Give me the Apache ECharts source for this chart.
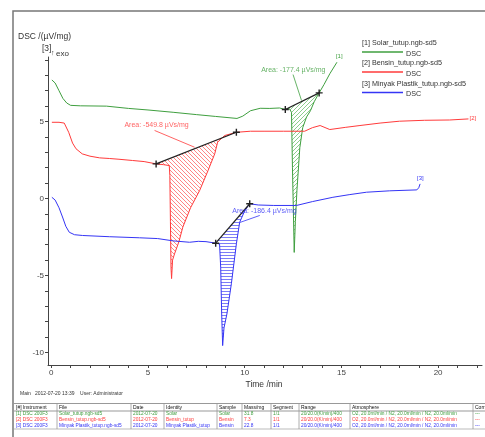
<!DOCTYPE html>
<html>
<head>
<meta charset="utf-8">
<script src="https://cdn.jsdelivr.net/npm/echarts@6/dist/echarts.min.js"></script>
<style>
  html, body { margin: 0; padding: 0; background: #fff; }
  #main { width: 485px; height: 437px; }
</style>
</head>
<body>
<div id="main"></div>
<script>
// time /min , DSC /(uV/mg)
const solarCurve = [
  [0.03, 7.7], [0.2, 7.5], [0.4, 7.0], [0.6, 6.5], [0.8, 6.2], [1.0, 6.05], [1.5, 6.02],
  [2.85, 6.0], [4.0, 5.85], [5.0, 5.75], [6.3, 5.6], [7.5, 5.45], [8.5, 5.33], [9.6, 5.2],
  [9.9, 5.35], [10.3, 5.7], [10.8, 5.86], [11.3, 5.85], [11.8, 5.88], [12.1, 5.78],
  [12.3, 5.85], [12.42, 5.6], [12.47, 2.0], [12.52, -1.0], [12.56, -3.5], [12.62, -1.5],
  [12.7, 0.5], [12.85, 3.3], [13.0, 4.6], [13.2, 5.3], [13.4, 5.7], [13.6, 6.3],
  [13.85, 6.86], [14.1, 7.4], [14.4, 8.1], [14.77, 8.85]
];
const bensinCurve = [
  [0.03, 4.95], [0.4, 4.95], [0.67, 4.9], [0.9, 4.3], [1.1, 3.6], [1.28, 3.23], [1.6, 2.9],
  [2.0, 2.75], [2.5, 2.64], [3.0, 2.6], [3.5, 2.55], [4.2, 2.47], [4.8, 2.4], [5.42, 2.25],
  [5.8, 2.2], [6.1, 2.14], [6.13, 1.5], [6.16, -1.5], [6.19, -4.5], [6.22, -5.2],
  [6.27, -4.0], [6.37, -3.6], [6.6, -2.8], [6.8, -1.86], [7.2, -0.6], [7.67, 0.52],
  [8.1, 1.8], [8.45, 2.9], [8.6, 3.66], [8.96, 4.09], [9.57, 4.3], [10.3, 4.37],
  [11.0, 4.37], [12.0, 4.37], [13.1, 4.37], [13.5, 4.6], [13.9, 4.74], [14.4, 4.48],
  [15.2, 4.62], [15.96, 4.74], [17.0, 4.9], [18.0, 5.02], [19.3, 5.08], [20.6, 5.1], [21.57, 5.17]
];
const plastikCurve = [
  [0.03, 0.08], [0.2, -0.1], [0.4, -0.6], [0.58, -1.2], [0.75, -1.8], [0.93, -2.19],
  [1.2, -2.35], [1.62, -2.4], [3.0, -2.48], [4.56, -2.55], [5.5, -2.6], [6.3, -2.75],
  [7.15, -2.84], [7.6, -2.78], [8.0, -2.8], [8.5, -2.9], [8.7, -2.95], [8.76, -4.5],
  [8.81, -7.5], [8.86, -9.55], [8.93, -8.4], [9.08, -7.5], [9.31, -5.54], [9.57, -2.94],
  [9.74, -1.54], [10.0, -0.8], [10.26, -0.34], [10.7, -0.42], [11.5, -0.45], [12.68, -0.45],
  [13.5, -0.2], [14.56, 0.08], [15.4, 0.25], [16.3, 0.41], [17.5, 0.5], [18.9, 0.56],
  [19.0, 0.7], [19.07, 0.95]
];

// peak baselines (onset, end)
const solarBase = [[12.1, 5.78], [13.85, 6.86]];
const bensinBase = [[5.42, 2.25], [9.57, 4.3]];
const plastikBase = [[8.5, -2.9], [10.26, -0.34]];

// area labels: text anchor, leader line
const areaTexts = ['Area: -177.4 \u00b5Vs/mg', 'Area: -549.8 \u00b5Vs/mg', 'Area: -186.4 \u00b5Vs/mg'];
const areaAnchors = [[10.85, 8.36], [3.78, 4.74], [9.36, -0.82]];
const areaLeaders = [
  [[12.5, 8.05], [12.94, 6.36]],
  [[5.34, 4.42], [7.41, 3.33]],
  [[9.74, -1.56], [10.78, -1.1]]
];

const seriesNames = ['[1] Solar_tutup.ngb-sd5', '[2] Bensin_tutup.ngb-sd5', '[3] Minyak Plastik_tutup.ngb-sd5'];
const seriesColors = ['#3f9f3f', '#ff3b3b', '#3535f5'];
const hatchColors = ['#5cb85c', '#ff5050', '#4545f5'];

const xTickLabels = [0, 5, 10, 15, 20];
const xTicks = [0, 1, 2, 3, 4, 5, 6, 7, 8, 9, 10, 11, 12, 13, 14, 15, 16, 17, 18, 19, 20, 21, 22];
const yTickLabels = [-10, -5, 0, 5];
const yTicks = [-10, -9, -8, -7, -6, -5, -4, -3, -2, -1, 0, 1, 2, 3, 4, 5, 6, 7, 8, 9];

const tableHead = ['[#] Instrument', 'File', 'Date', 'Identity', 'Sample', 'Mass/mg', 'Segment', 'Range', 'Atmosphere', 'Corr.'];
const tableRows = [
  ['[1] DSC 200F3', 'Solar_tutup.ngb-sd5', '2012-07-20', 'Solar', 'Solar', '31.8', '1/1', '20/20.0(K/min)/400', 'O2, 20.0ml/min / N2, 20.0ml/min / N2, 20.0ml/min', '---'],
  ['[2] DSC 200F3', 'Bensin_tutup.ngb-sd5', '2012-07-20', 'Bensin_tutup', 'Bensin', '7.3', '1/1', '20/20.0(K/min)/400', 'O2, 20.0ml/min / N2, 20.0ml/min / N2, 20.0ml/min', '---'],
  ['[3] DSC 200F3', 'Minyak Plastik_tutup.ngb-sd5', '2012-07-20', 'Minyak Plastik_tutup', 'Bensin', '22.8', '1/1', '20/20.0(K/min)/400', 'O2, 20.0ml/min / N2, 20.0ml/min / N2, 20.0ml/min', '---']
];
const tableCols = [16, 59, 133, 166, 219, 244, 273, 301, 352, 475];
const tableSeps = [57, 131, 164, 217, 242, 271, 299, 350, 473];

const FONT = 'Liberation Sans';

const hatch = (color, dir) => {
  const s = dir === 'h' ? 3 : 4;
  const c = document.createElement('canvas');
  c.width = s; c.height = s;
  const g = c.getContext('2d');
  g.strokeStyle = color;
  g.lineWidth = 0.7;
  g.beginPath();
  if (dir === 'h') {
    g.moveTo(0, 0.5); g.lineTo(s, 0.5);
  } else {
    for (const k of [-s, 0, s]) {
      if (dir === '\\') { g.moveTo(k, 0); g.lineTo(k + s, s); }
      else { g.moveTo(k + s, 0); g.lineTo(k, s); }
    }
  }
  g.stroke();
  return { image: c, repeat: 'repeat' };
};

const hatchSeries = (curve, base, fill) => ({
  type: 'custom',
  silent: true,
  z: 1,
  data: [base[0]],
  renderItem: (params, api) => ({
    type: 'polygon',
    shape: {
      points: curve.filter(p => p[0] >= base[0][0] && p[0] <= base[1][0]).map(p => api.coord(p))
    },
    style: { fill: fill, stroke: null }
  })
});

const curveSeries = (curve, i) => ({
  type: 'line',
  data: curve,
  symbol: 'none',
  z: 3,
  lineStyle: { color: seriesColors[i], width: 1 },
  endLabel: {
    show: true,
    formatter: '[' + (i + 1) + ']',
    color: seriesColors[i],
    fontSize: 6,
    fontFamily: FONT,
    distance: 1,
    offset: [[-2, -6], [0, -1], [-4, -6]][i]
  }
});

const PLUS = 'path://M4,0H6V4H10V6H6V10H4V6H0V4H4Z';
const baseSeries = (base) => ({
  type: 'line',
  data: base,
  symbol: PLUS,
  symbolSize: 7,
  z: 4,
  itemStyle: { color: '#222' },
  lineStyle: { color: '#222', width: 1.2 }
});

const leaderSeries = (i) => ({
  type: 'line',
  data: areaLeaders[i],
  symbol: 'none',
  z: 4,
  lineStyle: { color: seriesColors[i], width: 0.8 }
});

const labelSeries = (i) => ({
  type: 'scatter',
  data: [areaAnchors[i]],
  symbolSize: 0,
  z: 5,
  label: {
    show: true,
    position: 'right',
    distance: 0,
    formatter: areaTexts[i],
    color: seriesColors[i],
    fontSize: 7,
    fontFamily: FONT
  }
});

const txt = (x, y, text, size, color, align) => ({
  type: 'text', x: x, y: y, silent: true,
  style: { text: text, fill: color || '#333', font: size + 'px "' + FONT + '"', align: align || 'left', verticalAlign: 'middle' }
});
const seg = (x1, y1, x2, y2, color, w) => ({
  type: 'line', silent: true,
  shape: { x1: x1, y1: y1, x2: x2, y2: y2 },
  style: { stroke: color, lineWidth: w || 1 }
});

const graphics = [
  { type: 'rect', silent: true, shape: { x: 13, y: 11, width: 480, height: 430 }, style: { fill: 'none', stroke: '#777', lineWidth: 1.5 } },
  txt(18, 37, 'DSC /(\u00b5V/mg)', 8.5, '#333'),
  txt(42, 49, '[3]', 8.5, '#333'),
  txt(51, 53, '\u2191', 7, '#333'),
  txt(56, 54, 'exo', 8, '#333'),
  txt(264, 385, 'Time /min', 8.5, '#333', 'center'),
  txt(20, 393.5, 'Main   2012-07-20 13:39    User: Administrator', 5, '#333')
];
const legendY = [43.5, 63.5, 84];
seriesNames.forEach((name, i) => {
  graphics.push(txt(362, legendY[i], name, 7.2, '#333'));
  graphics.push(seg(362, legendY[i] + 8.5, 403, legendY[i] + 8.5, seriesColors[i], 1.5));
  graphics.push(txt(406, legendY[i] + 10.5, 'DSC', 7.2, '#333'));
});
// result table
graphics.push(seg(14, 403.5, 485, 403.5, '#999', 1));
graphics.push(seg(14, 411, 485, 411, '#999', 1));
graphics.push(seg(14, 429, 485, 429, '#bbb', 1));
tableSeps.forEach(x => graphics.push(seg(x, 403.5, x, 429, '#999', 0.8)));
tableHead.forEach((h, c) => graphics.push(txt(tableCols[c], 407.5, h, 5, '#111')));
tableRows.forEach((row, r) => {
  row.forEach((cell, c) => graphics.push(txt(tableCols[c], 414 + r * 5.8, cell, 4.8, seriesColors[r])));
});

const option = {
  animation: false,
  backgroundColor: '#fff',
  grid: { left: 48, right: 3, top: 57, bottom: 72 },
  xAxis: {
    type: 'value',
    min: -0.17,
    max: 22.27,
    axisLine: { show: true, onZero: false, lineStyle: { color: '#444', width: 1 } },
    axisTick: { show: true, customValues: xTicks, length: 3, lineStyle: { color: '#444' } },
    axisLabel: { customValues: xTickLabels, color: '#444', fontSize: 8, margin: 4, fontFamily: FONT },
    splitLine: { show: false }
  },
  yAxis: {
    type: 'value',
    min: -10.81,
    max: 9.19,
    axisLine: { show: true, onZero: false, lineStyle: { color: '#444', width: 1 } },
    axisTick: { show: true, customValues: yTicks, length: 3, lineStyle: { color: '#444' } },
    axisLabel: { customValues: yTickLabels, color: '#444', fontSize: 8, margin: 4, fontFamily: FONT },
    splitLine: { show: false }
  },
  graphic: graphics,
  series: [
    hatchSeries(solarCurve, solarBase, hatch(hatchColors[0], '/')),
    hatchSeries(bensinCurve, bensinBase, hatch(hatchColors[1], '\\')),
    hatchSeries(plastikCurve, plastikBase, hatch(hatchColors[2], 'h')),
    curveSeries(solarCurve, 0),
    curveSeries(bensinCurve, 1),
    curveSeries(plastikCurve, 2),
    baseSeries(solarBase),
    baseSeries(bensinBase),
    baseSeries(plastikBase),
    leaderSeries(0), leaderSeries(1), leaderSeries(2),
    labelSeries(0), labelSeries(1), labelSeries(2)
  ]
};

const myChart = echarts.init(document.getElementById('main'), null, { renderer: 'canvas' });
myChart.setOption(option);
</script>
</body>
</html>
